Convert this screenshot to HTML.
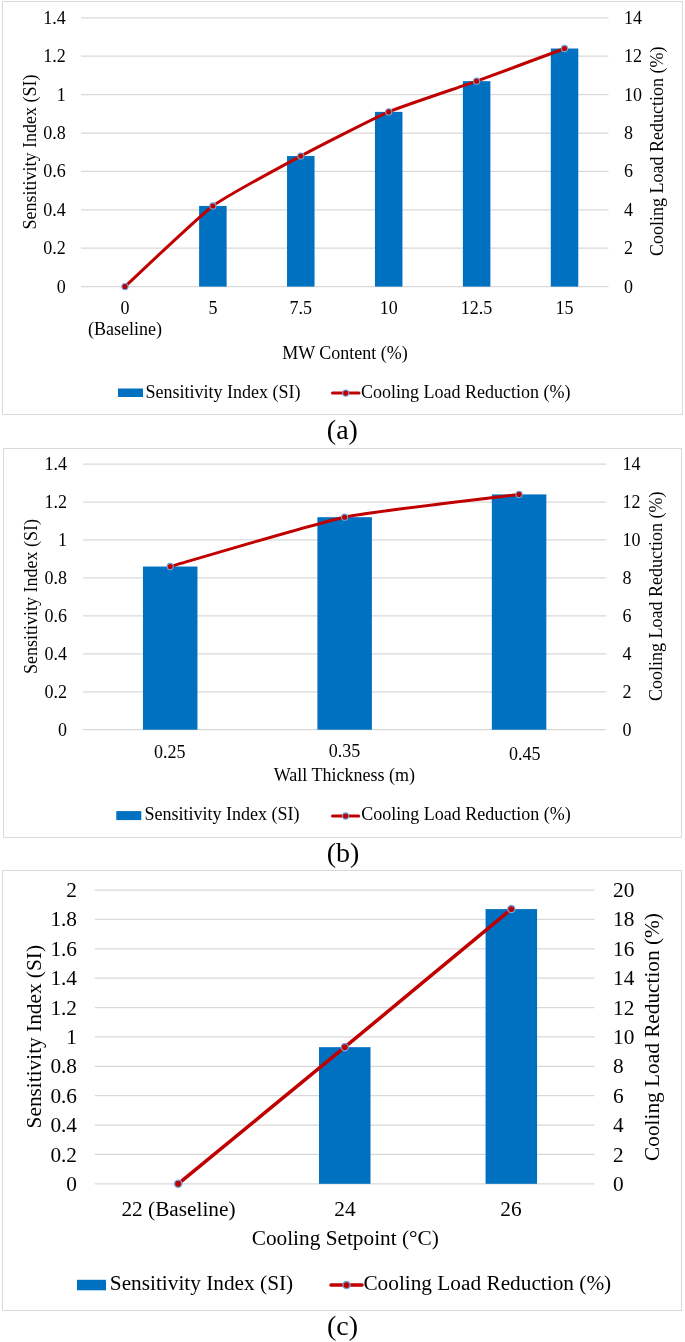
<!DOCTYPE html><html><head><meta charset="utf-8"><title>Sensitivity charts</title>
<style>html,body{margin:0;padding:0;background:#fff;}body{width:685px;height:1342px;overflow:hidden;}svg{display:block;will-change:transform;}text{font-family:"Liberation Serif",serif;fill:#000;}</style></head><body>
<svg width="685" height="1342" viewBox="0 0 685 1342">
<rect x="2.5" y="1.5" width="680.0" height="413.0" fill="none" stroke="#D9D9D9" stroke-width="1"/>
<line x1="81" y1="286.6" x2="608.5" y2="286.6" stroke="#D9D9D9" stroke-width="1.25"/>
<text x="65.7" y="292.6" font-size="18" text-anchor="end" >0</text>
<text x="624" y="292.6" font-size="18" text-anchor="start" >0</text>
<line x1="81" y1="248.2" x2="608.5" y2="248.2" stroke="#D9D9D9" stroke-width="1.25"/>
<text x="65.7" y="254.2" font-size="18" text-anchor="end" >0.2</text>
<text x="624" y="254.2" font-size="18" text-anchor="start" >2</text>
<line x1="81" y1="209.8" x2="608.5" y2="209.8" stroke="#D9D9D9" stroke-width="1.25"/>
<text x="65.7" y="215.8" font-size="18" text-anchor="end" >0.4</text>
<text x="624" y="215.8" font-size="18" text-anchor="start" >4</text>
<line x1="81" y1="171.4" x2="608.5" y2="171.4" stroke="#D9D9D9" stroke-width="1.25"/>
<text x="65.7" y="177.4" font-size="18" text-anchor="end" >0.6</text>
<text x="624" y="177.4" font-size="18" text-anchor="start" >6</text>
<line x1="81" y1="133" x2="608.5" y2="133" stroke="#D9D9D9" stroke-width="1.25"/>
<text x="65.7" y="139" font-size="18" text-anchor="end" >0.8</text>
<text x="624" y="139" font-size="18" text-anchor="start" >8</text>
<line x1="81" y1="94.6" x2="608.5" y2="94.6" stroke="#D9D9D9" stroke-width="1.25"/>
<text x="65.7" y="100.6" font-size="18" text-anchor="end" >1</text>
<text x="624" y="100.6" font-size="18" text-anchor="start" >10</text>
<line x1="81" y1="56.2" x2="608.5" y2="56.2" stroke="#D9D9D9" stroke-width="1.25"/>
<text x="65.7" y="62.2" font-size="18" text-anchor="end" >1.2</text>
<text x="624" y="62.2" font-size="18" text-anchor="start" >12</text>
<line x1="81" y1="17.8" x2="608.5" y2="17.8" stroke="#D9D9D9" stroke-width="1.25"/>
<text x="65.7" y="23.8" font-size="18" text-anchor="end" >1.4</text>
<text x="624" y="23.8" font-size="18" text-anchor="start" >14</text>
<rect x="199.12" y="205.96" width="27.5" height="80.64" fill="#0070C0"/>
<rect x="287.04" y="156.04" width="27.5" height="130.56" fill="#0070C0"/>
<rect x="374.96" y="111.88" width="27.5" height="174.72" fill="#0070C0"/>
<rect x="462.88" y="81.16" width="27.5" height="205.44" fill="#0070C0"/>
<rect x="550.79" y="48.52" width="27.5" height="238.08" fill="#0070C0"/>
<path d="M124.96,286.6 C131.99,280.15 198.81,216.4 212.88,205.96 C226.94,195.52 286.73,163.57 300.79,156.04 C314.86,148.51 374.64,117.87 388.71,111.88 C402.78,105.89 462.56,86.23 476.62,81.16 C490.69,76.09 557.51,51.13 564.54,48.52" fill="none" stroke="#C00000" stroke-width="3" stroke-linejoin="round" stroke-linecap="round"/>
<circle cx="124.96" cy="286.6" r="3.1" fill="#C00000" stroke="#6FA8DC" stroke-width="1.1"/>
<circle cx="212.88" cy="205.96" r="3.1" fill="#C00000" stroke="#6FA8DC" stroke-width="1.1"/>
<circle cx="300.79" cy="156.04" r="3.1" fill="#C00000" stroke="#6FA8DC" stroke-width="1.1"/>
<circle cx="388.71" cy="111.88" r="3.1" fill="#C00000" stroke="#6FA8DC" stroke-width="1.1"/>
<circle cx="476.62" cy="81.16" r="3.1" fill="#C00000" stroke="#6FA8DC" stroke-width="1.1"/>
<circle cx="564.54" cy="48.52" r="3.1" fill="#C00000" stroke="#6FA8DC" stroke-width="1.1"/>
<text x="124.96" y="313.8" font-size="18" text-anchor="middle" >0</text>
<text x="212.88" y="313.8" font-size="18" text-anchor="middle" >5</text>
<text x="300.79" y="313.8" font-size="18" text-anchor="middle" >7.5</text>
<text x="388.71" y="313.8" font-size="18" text-anchor="middle" >10</text>
<text x="476.62" y="313.8" font-size="18" text-anchor="middle" >12.5</text>
<text x="564.54" y="313.8" font-size="18" text-anchor="middle" >15</text>
<text x="124.96" y="334.5" font-size="18" text-anchor="middle" >(Baseline)</text>
<text x="345" y="359.1" font-size="18" text-anchor="middle" >MW Content (%)</text>
<text transform="translate(35.8,152) rotate(-90)" font-size="18" text-anchor="middle">Sensitivity Index (SI)</text>
<text transform="translate(663.2,151.2) rotate(-90)" font-size="18" text-anchor="middle">Cooling Load Reduction (%)</text>
<rect x="118" y="388.5" width="25" height="8.5" fill="#0070C0"/>
<text x="145.5" y="397.7" font-size="18" text-anchor="start" >Sensitivity Index (SI)</text>
<line x1="332.5" y1="393.1" x2="359" y2="393.1" stroke="#C00000" stroke-width="3" stroke-linecap="round"/>
<circle cx="345.75" cy="393.1" r="3.1" fill="#C00000" stroke="#6FA8DC" stroke-width="1.1"/>
<text x="361" y="397.7" font-size="18" text-anchor="start" >Cooling Load Reduction (%)</text>
<text x="342.4" y="438.5" font-size="28" text-anchor="middle" >(a)</text>
<rect x="3.5" y="448.5" width="678.0" height="389.0" fill="none" stroke="#D9D9D9" stroke-width="1"/>
<line x1="83" y1="729.7" x2="606.3" y2="729.7" stroke="#D9D9D9" stroke-width="1.25"/>
<text x="67" y="735.7" font-size="18" text-anchor="end" >0</text>
<text x="622.6" y="735.7" font-size="18" text-anchor="start" >0</text>
<line x1="83" y1="691.75" x2="606.3" y2="691.75" stroke="#D9D9D9" stroke-width="1.25"/>
<text x="67" y="697.75" font-size="18" text-anchor="end" >0.2</text>
<text x="622.6" y="697.75" font-size="18" text-anchor="start" >2</text>
<line x1="83" y1="653.8" x2="606.3" y2="653.8" stroke="#D9D9D9" stroke-width="1.25"/>
<text x="67" y="659.8" font-size="18" text-anchor="end" >0.4</text>
<text x="622.6" y="659.8" font-size="18" text-anchor="start" >4</text>
<line x1="83" y1="615.85" x2="606.3" y2="615.85" stroke="#D9D9D9" stroke-width="1.25"/>
<text x="67" y="621.85" font-size="18" text-anchor="end" >0.6</text>
<text x="622.6" y="621.85" font-size="18" text-anchor="start" >6</text>
<line x1="83" y1="577.9" x2="606.3" y2="577.9" stroke="#D9D9D9" stroke-width="1.25"/>
<text x="67" y="583.9" font-size="18" text-anchor="end" >0.8</text>
<text x="622.6" y="583.9" font-size="18" text-anchor="start" >8</text>
<line x1="83" y1="539.95" x2="606.3" y2="539.95" stroke="#D9D9D9" stroke-width="1.25"/>
<text x="67" y="545.95" font-size="18" text-anchor="end" >1</text>
<text x="622.6" y="545.95" font-size="18" text-anchor="start" >10</text>
<line x1="83" y1="502" x2="606.3" y2="502" stroke="#D9D9D9" stroke-width="1.25"/>
<text x="67" y="508" font-size="18" text-anchor="end" >1.2</text>
<text x="622.6" y="508" font-size="18" text-anchor="start" >12</text>
<line x1="83" y1="464.05" x2="606.3" y2="464.05" stroke="#D9D9D9" stroke-width="1.25"/>
<text x="67" y="470.05" font-size="18" text-anchor="end" >1.4</text>
<text x="622.6" y="470.05" font-size="18" text-anchor="start" >14</text>
<rect x="142.97" y="566.52" width="54.5" height="163.18" fill="#0070C0"/>
<rect x="317.4" y="517.18" width="54.5" height="212.52" fill="#0070C0"/>
<rect x="491.83" y="494.41" width="54.5" height="235.29" fill="#0070C0"/>
<path d="M170.22,566.52 C184.17,562.57 316.74,522.95 344.65,517.18 C372.56,511.41 505.13,496.23 519.08,494.41" fill="none" stroke="#C00000" stroke-width="3" stroke-linejoin="round" stroke-linecap="round"/>
<circle cx="170.22" cy="566.52" r="3.1" fill="#C00000" stroke="#6FA8DC" stroke-width="1.1"/>
<circle cx="344.65" cy="517.18" r="3.1" fill="#C00000" stroke="#6FA8DC" stroke-width="1.1"/>
<circle cx="519.08" cy="494.41" r="3.1" fill="#C00000" stroke="#6FA8DC" stroke-width="1.1"/>
<text x="169.7" y="758.2" font-size="18" text-anchor="middle" >0.25</text>
<text x="344.6" y="756.9" font-size="18" text-anchor="middle" >0.35</text>
<text x="524.8" y="760.2" font-size="18" text-anchor="middle" >0.45</text>
<text x="344.4" y="780.6" font-size="18" text-anchor="middle" >Wall Thickness (m)</text>
<text transform="translate(36.7,596.6) rotate(-90)" font-size="18" text-anchor="middle">Sensitivity Index (SI)</text>
<text transform="translate(661.5,596.3) rotate(-90)" font-size="18" text-anchor="middle">Cooling Load Reduction (%)</text>
<rect x="116.3" y="811.1" width="25" height="9" fill="#0070C0"/>
<text x="144.5" y="820.1" font-size="18" text-anchor="start" >Sensitivity Index (SI)</text>
<line x1="332.5" y1="816" x2="358.7" y2="816" stroke="#C00000" stroke-width="3" stroke-linecap="round"/>
<circle cx="345.6" cy="816" r="3.1" fill="#C00000" stroke="#6FA8DC" stroke-width="1.1"/>
<text x="361.2" y="820.1" font-size="18" text-anchor="start" >Cooling Load Reduction (%)</text>
<text x="343" y="861.7" font-size="28" text-anchor="middle" >(b)</text>
<rect x="2.5" y="870.5" width="679.0" height="440.0" fill="none" stroke="#D9D9D9" stroke-width="1"/>
<line x1="94.9" y1="1183.8" x2="594.6" y2="1183.8" stroke="#D9D9D9" stroke-width="1.25"/>
<text x="77" y="1190.9" font-size="21.3" text-anchor="end" >0</text>
<text x="613" y="1190.9" font-size="21.3" text-anchor="start" >0</text>
<line x1="94.9" y1="1154.42" x2="594.6" y2="1154.42" stroke="#D9D9D9" stroke-width="1.25"/>
<text x="77" y="1161.52" font-size="21.3" text-anchor="end" >0.2</text>
<text x="613" y="1161.52" font-size="21.3" text-anchor="start" >2</text>
<line x1="94.9" y1="1125.04" x2="594.6" y2="1125.04" stroke="#D9D9D9" stroke-width="1.25"/>
<text x="77" y="1132.14" font-size="21.3" text-anchor="end" >0.4</text>
<text x="613" y="1132.14" font-size="21.3" text-anchor="start" >4</text>
<line x1="94.9" y1="1095.66" x2="594.6" y2="1095.66" stroke="#D9D9D9" stroke-width="1.25"/>
<text x="77" y="1102.76" font-size="21.3" text-anchor="end" >0.6</text>
<text x="613" y="1102.76" font-size="21.3" text-anchor="start" >6</text>
<line x1="94.9" y1="1066.28" x2="594.6" y2="1066.28" stroke="#D9D9D9" stroke-width="1.25"/>
<text x="77" y="1073.38" font-size="21.3" text-anchor="end" >0.8</text>
<text x="613" y="1073.38" font-size="21.3" text-anchor="start" >8</text>
<line x1="94.9" y1="1036.9" x2="594.6" y2="1036.9" stroke="#D9D9D9" stroke-width="1.25"/>
<text x="77" y="1044" font-size="21.3" text-anchor="end" >1</text>
<text x="613" y="1044" font-size="21.3" text-anchor="start" >10</text>
<line x1="94.9" y1="1007.52" x2="594.6" y2="1007.52" stroke="#D9D9D9" stroke-width="1.25"/>
<text x="77" y="1014.62" font-size="21.3" text-anchor="end" >1.2</text>
<text x="613" y="1014.62" font-size="21.3" text-anchor="start" >12</text>
<line x1="94.9" y1="978.14" x2="594.6" y2="978.14" stroke="#D9D9D9" stroke-width="1.25"/>
<text x="77" y="985.24" font-size="21.3" text-anchor="end" >1.4</text>
<text x="613" y="985.24" font-size="21.3" text-anchor="start" >14</text>
<line x1="94.9" y1="948.76" x2="594.6" y2="948.76" stroke="#D9D9D9" stroke-width="1.25"/>
<text x="77" y="955.86" font-size="21.3" text-anchor="end" >1.6</text>
<text x="613" y="955.86" font-size="21.3" text-anchor="start" >16</text>
<line x1="94.9" y1="919.38" x2="594.6" y2="919.38" stroke="#D9D9D9" stroke-width="1.25"/>
<text x="77" y="926.48" font-size="21.3" text-anchor="end" >1.8</text>
<text x="613" y="926.48" font-size="21.3" text-anchor="start" >18</text>
<line x1="94.9" y1="890" x2="594.6" y2="890" stroke="#D9D9D9" stroke-width="1.25"/>
<text x="77" y="897.1" font-size="21.3" text-anchor="end" >2</text>
<text x="613" y="897.1" font-size="21.3" text-anchor="start" >20</text>
<rect x="319" y="1047.18" width="51.5" height="136.62" fill="#0070C0"/>
<rect x="485.57" y="909.1" width="51.5" height="274.7" fill="#0070C0"/>
<path d="M178.18,1183.8 C191.51,1172.87 318.1,1069.16 344.75,1047.18 C371.4,1025.21 497.99,920.14 511.32,909.1" fill="none" stroke="#C00000" stroke-width="3.5" stroke-linejoin="round" stroke-linecap="round"/>
<circle cx="178.18" cy="1183.8" r="3.6" fill="#C00000" stroke="#6FA8DC" stroke-width="1.3"/>
<circle cx="344.75" cy="1047.18" r="3.6" fill="#C00000" stroke="#6FA8DC" stroke-width="1.3"/>
<circle cx="511.32" cy="909.1" r="3.6" fill="#C00000" stroke="#6FA8DC" stroke-width="1.3"/>
<text x="178.5" y="1215.6" font-size="21.3" text-anchor="middle" >22 (Baseline)</text>
<text x="344.9" y="1215.7" font-size="21.3" text-anchor="middle" >24</text>
<text x="510.9" y="1215.7" font-size="21.3" text-anchor="middle" >26</text>
<text x="345.3" y="1244.8" font-size="21.3" text-anchor="middle" >Cooling Setpoint (°C)</text>
<text transform="translate(40.7,1036.7) rotate(-90)" font-size="21.3" text-anchor="middle">Sensitivity Index (SI)</text>
<text transform="translate(658.6,1037) rotate(-90)" font-size="21.3" text-anchor="middle">Cooling Load Reduction (%)</text>
<rect x="77" y="1279.8" width="29" height="10.5" fill="#0070C0"/>
<text x="109.8" y="1290.3" font-size="21.3" text-anchor="start" >Sensitivity Index (SI)</text>
<line x1="331" y1="1285.1" x2="362" y2="1285.1" stroke="#C00000" stroke-width="3.5" stroke-linecap="round"/>
<circle cx="346.5" cy="1285.1" r="3.6" fill="#C00000" stroke="#6FA8DC" stroke-width="1.3"/>
<text x="363.4" y="1290.3" font-size="21.3" text-anchor="start" >Cooling Load Reduction (%)</text>
<text x="342.5" y="1334.5" font-size="28" text-anchor="middle" >(c)</text>
</svg></body></html>
